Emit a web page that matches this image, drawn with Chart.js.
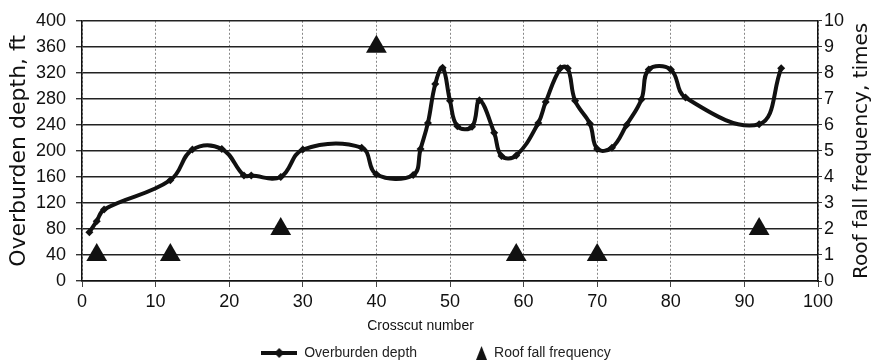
<!DOCTYPE html>
<html>
<head>
<meta charset="utf-8">
<script src="https://cdn.jsdelivr.net/npm/chart.js@4.4.1/dist/chart.umd.min.js"></script>
<style>
  html, body { margin: 0; padding: 0; background: #fff; }
  #wrap { width: 872px; height: 364px; }
</style>
</head>
<body>
<div id="wrap"><canvas id="depthChart" width="872" height="364"></canvas></div>
<script>
// Overburden depth along the entry, by crosscut
const crosscut = [1, 2, 3, 12, 15, 19, 22, 23, 27, 30, 38, 40, 45, 46, 47, 48, 49, 50, 51, 53, 54, 56, 57, 59,
                  62, 63, 65, 66, 67, 69, 70, 72, 74, 76, 77, 80, 82, 92, 95];
const depth = [75, 92, 110, 155, 202, 203, 162, 162, 160, 202, 205, 164, 163, 203, 243, 303, 328, 277, 238, 237, 278, 228, 192, 193,
               243, 275, 327, 327, 277, 242, 203, 205, 240, 279, 325, 325, 282, 241, 327];

// Roof falls recorded at each crosscut
const fallCrosscut = [2, 12, 27, 40, 59, 70, 92];
const fallCount = [1, 1, 2, 9, 1, 1, 2];

// Axis ranges / tick steps
const xTicks = [0, 100, 10];
const depthTicks = [0, 400, 40];
const fallTicks = [0, 10, 1];

const tickFont = { family: 'Liberation Sans', size: 18 };
const ink = '#111';

// small legend symbols: line with a diamond, and a solid triangle
function lineSymbol() {
  const c = document.createElement('canvas');
  c.width = 36; c.height = 14;
  const g = c.getContext('2d');
  g.strokeStyle = ink; g.lineWidth = 4;
  g.beginPath(); g.moveTo(0, 7); g.lineTo(36, 7); g.stroke();
  g.fillStyle = ink;
  g.beginPath(); g.moveTo(18, 2); g.lineTo(23, 7); g.lineTo(18, 12); g.lineTo(13, 7); g.closePath(); g.fill();
  return c;
}
function triSymbol() {
  const c = document.createElement('canvas');
  c.width = 36; c.height = 14;
  const g = c.getContext('2d');
  g.fillStyle = ink;
  g.beginPath(); g.moveTo(30.5, 0); g.lineTo(36, 14); g.lineTo(25, 14); g.closePath(); g.fill();
  return c;
}
const legendIcons = [lineSymbol(), triSymbol()];

// x caption and right-hand caption (reads bottom to top like the left one)
const captions = {
  id: 'captions',
  afterDraw(chart) {
    const { ctx, chartArea, scales } = chart;
    ctx.save();
    ctx.fillStyle = ink;
    ctx.textAlign = 'center';
    ctx.textBaseline = 'middle';
    ctx.font = '14px "Liberation Sans"';
    ctx.fillText('Crosscut number', scales.x.getPixelForValue(46), 326);
    ctx.translate(862, (chartArea.top + chartArea.bottom) / 2);
    ctx.rotate(-Math.PI / 2);
    ctx.font = '20px "DejaVu Sans"';
    ctx.fillText('Roof fall frequency, times', 0, 0);
    ctx.restore();
  }
};

const ctx = document.getElementById('depthChart').getContext('2d');
const depthChart = new Chart(ctx, {
  type: 'line',
  data: {
    datasets: [{
      label: 'Overburden depth',
      data: crosscut.map((x, i) => ({ x: x, y: depth[i] })),
      yAxisID: 'y',
      borderColor: ink,
      backgroundColor: ink,
      borderWidth: 4,
      tension: 0.4,
      pointStyle: 'rectRot',
      pointRadius: 4,
      pointBackgroundColor: ink,
      pointBorderWidth: 0,
      fill: false
    }, {
      label: 'Roof fall frequency',
      data: fallCrosscut.map((x, i) => ({ x: x, y: fallCount[i] })),
      yAxisID: 'y2',
      showLine: false,
      pointStyle: 'triangle',
      pointRadius: 12,
      pointBackgroundColor: ink,
      pointBorderColor: ink,
      pointBorderWidth: 0,
      backgroundColor: ink
    }]
  },
  options: {
    responsive: false,
    animation: false,
    layout: { padding: { top: 19, bottom: -6, left: 0, right: 0 } },
    scales: {
      x: {
        type: 'linear',
        min: xTicks[0], max: xTicks[1],
        ticks: { stepSize: xTicks[2], font: tickFont, color: ink, padding: 4, maxRotation: 0 },
        grid: { color: '#888', lineWidth: 1, tickLength: 6, tickColor: '#444', tickBorderDash: [], borderDash: [2, 2] },
        border: { color: ink, width: 1.5, dash: [2, 2] },
        afterFit: function(scale) { scale.height = 31; }
      },
      y: {
        position: 'left',
        min: depthTicks[0], max: depthTicks[1],
        ticks: { stepSize: depthTicks[2], font: tickFont, color: ink, padding: 10 },
        grid: { color: '#222', lineWidth: 1.4, tickLength: 6, tickColor: '#333' },
        border: { color: ink, width: 1.5 },
        title: {
          display: true,
          text: 'Overburden depth, ft',
          font: { family: 'DejaVu Sans', size: 22 },
          color: ink,
          padding: { top: 6, bottom: 0 }
        },
        afterFit: function(scale) { scale.width = 82; }
      },
      y2: {
        position: 'right',
        min: fallTicks[0], max: fallTicks[1],
        ticks: { stepSize: fallTicks[2], font: tickFont, color: ink, padding: 2 },
        grid: { drawOnChartArea: false, tickLength: 4, tickColor: '#333' },
        border: { color: ink, width: 1.5 },
        afterFit: function(scale) { scale.width = 54; }
      }
    },
    plugins: {
      legend: {
        position: 'bottom',
        labels: {
          usePointStyle: true,
          pointStyleWidth: 36,
          padding: 34,
          color: '#222',
          font: { family: 'Liberation Sans', size: 14 },
          generateLabels: function(chart) {
            const items = Chart.defaults.plugins.legend.labels.generateLabels(chart);
            items.forEach((item, i) => { item.pointStyle = legendIcons[i]; });
            return items;
          }
        }
      },
      tooltip: { enabled: false }
    }
  },
  plugins: [captions]
});
</script>
</body>
</html>
